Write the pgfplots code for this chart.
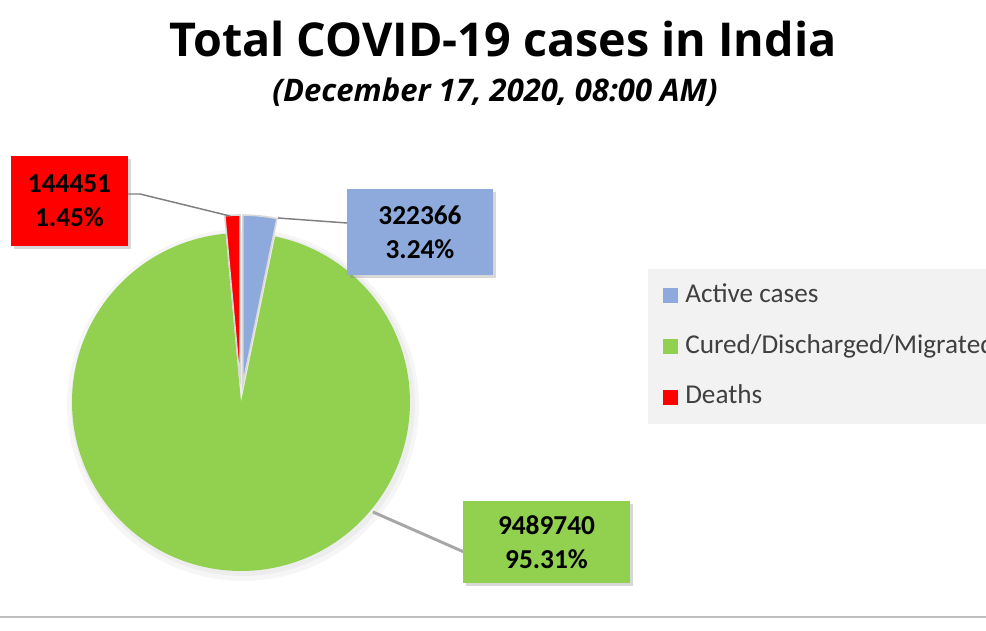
\documentclass[border=0pt]{standalone}
\usepackage{pgfplots}
\pgfplotsset{compat=1.18}
\usepackage{pgfplotstable}
\usepackage{fontspec}
\setmainfont{Carlito}
\newfontfamily\titlefont{Open Sans}
\usetikzlibrary{shadows}

\definecolor{activeblue}{HTML}{8EA9DB}
\definecolor{curedgreen}{HTML}{92D050}
\definecolor{deathred}{HTML}{FF0000}
\definecolor{legendbg}{HTML}{F2F2F2}
\definecolor{legendtext}{HTML}{404040}
\definecolor{leader}{HTML}{7F7F7F}
\definecolor{leadergreen}{HTML}{A6A6A6}
\definecolor{rulegray}{HTML}{BFBFBF}
\definecolor{slicegap}{HTML}{D9D9D9}

% cases on December 17, 2020, 08:00 AM
\pgfplotstableread{
label value
Active 322366
Cured 9489740
Deaths 144451
}\casestable

\pgfplotstablegetelem{0}{value}\of\casestable \let\vActive\pgfplotsretval
\pgfplotstablegetelem{1}{value}\of\casestable \let\vCured\pgfplotsretval
\pgfplotstablegetelem{2}{value}\of\casestable \let\vDeaths\pgfplotsretval

% slice angles, clockwise from 12 o'clock
\edef\total{\fpeval{\vActive+\vCured+\vDeaths}}
\edef\sA{\fpeval{90-360*\vActive/\total}}
\edef\sC{\fpeval{\sA-360*\vCured/\total}}
% exploded slices (Active, Deaths)
\def\R{169}
\def\E{18}
\edef\dxA{\fpeval{\E*cosd((90+\sA)/2)}}
\edef\dyA{\fpeval{\E*sind((90+\sA)/2)}}
\edef\dxD{\fpeval{\E*cosd((\sC-270)/2)}}
\edef\dyD{\fpeval{\E*sind((\sC-270)/2)}}

\tikzset{
  datalabel/.style={inner sep=0pt, align=center,
    font=\bfseries\fontsize{20.5}{25.5}\selectfont,
    drop shadow={shadow xshift=2.2pt, shadow yshift=-2.2pt, opacity=0.3}},
}

\begin{document}
\begin{tikzpicture}[x=0.75pt, y=-0.75pt]
  \useasboundingbox (0,0) rectangle (986,631);
  \clip (0,0) rectangle (986,631);
  \fill[white] (0,0) rectangle (986,631);

  \node[anchor=base, font=\titlefont\bfseries\fontsize{35}{42}\selectfont]
    at (503,57) {Total COVID-19 cases in India};
  \node[anchor=base, font=\titlefont\bfseries\itshape\fontsize{23.3}{28}\selectfont]
    at (495,102) {(December 17, 2020, 08:00 AM)};

  \begin{axis}[
    at={(0,0)}, anchor=north west,
    width=739.5pt, height=473.25pt, scale only axis,
    xmin=-241, xmax=745, ymin=-229, ymax=402,
    hide axis, clip=false,
    legend cell align=left,
    legend style={at={(0.6572,0.5737)}, anchor=north west,
      fill=legendbg, draw=none, text=legendtext,
      font=\fontsize{20.4}{24}\selectfont,
      inner xsep=11.25pt, inner ysep=10.5pt, row sep=19pt,
      nodes={inner sep=0pt, text height=14.5pt, text depth=4.5pt},
      /tikz/every odd column/.append style={column sep=5.25pt}},
    legend image code/.code={
      \fill[#1, draw=none] (0pt,-5.6pt) rectangle (11.25pt,5.6pt);},
  ]
    % soft shadow round the pie
    \addplot[forget plot, fill=black, opacity=0.035, draw=none,
      domain=0:360, samples=120, variable=\t]
      ({2+(\R+7)*cos(\t)}, {-3+(\R+7)*sin(\t)}) -- cycle;
    \addplot[forget plot, fill=black, opacity=0.035, draw=none,
      domain=0:360, samples=120, variable=\t]
      ({2+(\R+3)*cos(\t)}, {-2+(\R+3)*sin(\t)}) -- cycle;

    \addplot[fill=activeblue, draw=slicegap, line width=1.2pt,
      domain=\sA:90, samples=30, variable=\t]
      ({\dxA+\R*cos(\t)}, {\dyA+\R*sin(\t)}) -- (axis cs:\dxA,\dyA) -- cycle;
    \addlegendentry{Active cases}
    \addplot[fill=curedgreen, draw=none,
      domain=\sC:\sA, samples=180, variable=\t]
      ({\R*cos(\t)}, {\R*sin(\t)}) -- (axis cs:0,0) -- cycle;
    \addlegendentry{Cured/Discharged/Migrated}
    \addplot[fill=deathred, draw=slicegap, line width=1.2pt,
      domain=-270:\sC, samples=10, variable=\t]
      ({\dxD+\R*cos(\t)}, {\dyD+\R*sin(\t)}) -- (axis cs:\dxD,\dyD) -- cycle;
    \addlegendentry{Deaths}
  \end{axis}

  % leader lines
  \draw[leader, line width=1.1pt] (128,194) -- (140,194) -- (230,216);
  \draw[leader, line width=1.1pt] (347,223) -- (278,218);
  \draw[leadergreen, line width=2.2pt] (373,512) -- (464,552);

  % data labels
  \node[datalabel, fill=deathred, minimum width=87.75pt, minimum height=67.5pt]
    at (69.5,201) {\vDeaths\\1.45\%};
  \node[datalabel, fill=activeblue, minimum width=109.5pt, minimum height=64.5pt]
    at (420,232) {\vActive\\3.24\%};
  \node[datalabel, fill=curedgreen, minimum width=125.25pt, minimum height=61.5pt]
    at (546.5,542) {\vCured\\95.31\%};

  \draw[rulegray, line width=1.2pt] (0,617) -- (986,617);
\end{tikzpicture}
\end{document}
